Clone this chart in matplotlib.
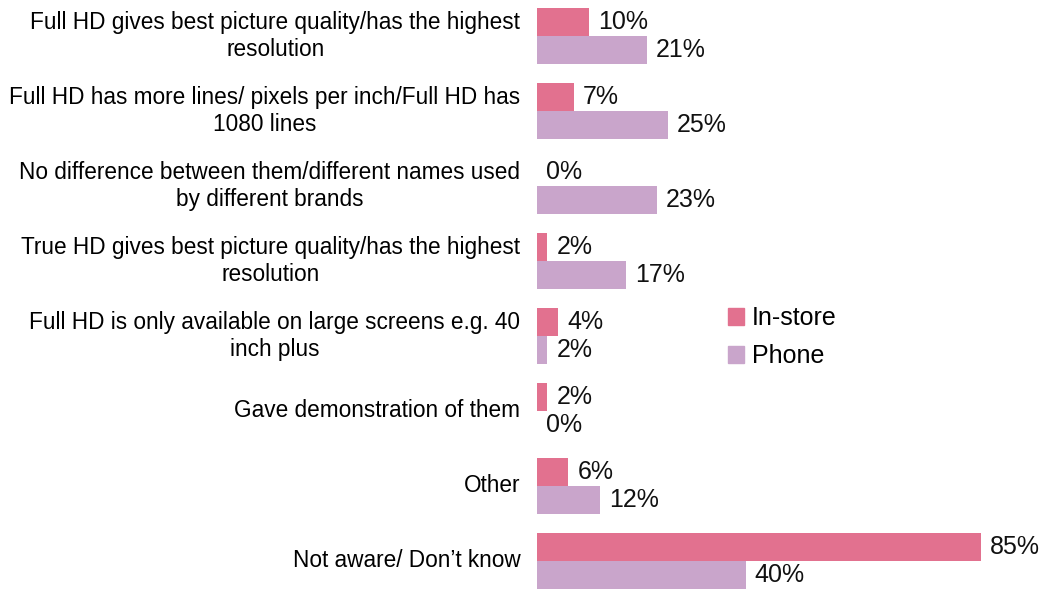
import matplotlib
matplotlib.use("Agg")
import matplotlib.pyplot as plt
from matplotlib.patches import Patch

plt.rcParams['font.family'] = ['Liberation Sans', 'DejaVu Sans']

categories = [
    "Full HD gives best picture quality/has the highest\nresolution",
    "Full HD has more lines/ pixels per inch/Full HD has\n1080 lines",
    "No difference between them/different names used\nby different brands",
    "True HD gives best picture quality/has the highest\nresolution",
    "Full HD is only available on large screens e.g. 40\ninch plus",
    "Gave demonstration of them",
    "Other",
    "Not aware/ Don\u2019t know",
]
in_store = [10, 7, 0, 2, 4, 2, 6, 85]
phone = [21, 25, 23, 17, 2, 0, 12, 40]
series_names = ["In-store", "Phone"]
colors = ["#E2718F", "#C9A5CB"]

W, H = 1050, 590
fig = plt.figure(figsize=(W / 100, H / 100), dpi=100)
ax_left = 537 / W
ax_width = 500 / W
ax = fig.add_axes([ax_left, 0, ax_width, 1])

bar_h = 0.373
ypos = list(range(len(categories)))
ax.barh([y - bar_h / 2 for y in ypos], in_store, height=bar_h, color=colors[0])
ax.barh([y + bar_h / 2 for y in ypos], phone, height=bar_h, color=colors[1])

# scale: ~5.22 px per percentage point
xmax = 500 / 5.22
ax.set_xlim(0, xmax)
ax.set_ylim(7.387, -0.48)

val_fs = 18
for y, v in zip(ypos, in_store):
    ax.annotate(f"{v}%", (v, y - bar_h / 2), xytext=(9, 0), textcoords="offset pixels",
                va="center", ha="left", fontsize=val_fs, color="#111111")
for y, v in zip(ypos, phone):
    ax.annotate(f"{v}%", (v, y + bar_h / 2), xytext=(9, 0), textcoords="offset pixels",
                va="center", ha="left", fontsize=val_fs, color="#111111")

ax.set_yticks(ypos)
ax.set_yticklabels(categories, fontsize=16.3, linespacing=1.25, ha="right",
                   va="center", multialignment="center")
ax.tick_params(axis="y", length=0, pad=12)
ax.set_xticks([])
for s in ax.spines.values():
    s.set_visible(False)

handles = [Patch(color=c, label=n) for c, n in zip(colors, series_names)]
fig.legend(handles=handles, loc="upper left", bbox_to_anchor=(722 / W, 1 - 300 / H),
           frameon=False, fontsize=val_fs, handlelength=0.64, handleheight=0.64,
           handletextpad=0.32, labelspacing=0.56, borderaxespad=0, borderpad=0.25)

fig.savefig("out.png", dpi=100)
